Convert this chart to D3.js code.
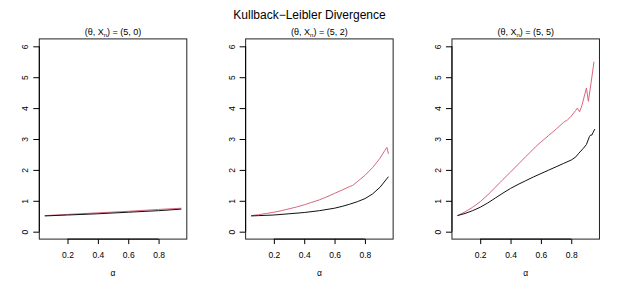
<!DOCTYPE html>
<html><head><meta charset="utf-8">
<script src="https://cdn.jsdelivr.net/npm/d3@7"></script>
<style>body{margin:0;background:#fff}svg{display:block}text{font-family:"Liberation Sans",Arial,sans-serif;fill:#000}</style>
</head><body><svg id="c" width="619" height="288"></svg>
<script>
const panelTitles = [["5","0"],["5","2"],["5","5"]];
const xTicks = [0.2,0.4,0.6,0.8];
const yTicks = [0,1,2,3,4,5,6];
// panel 1 (5,0)
const p1Alpha = [0.05,0.2,0.4,0.6,0.8,0.95];
const p1Red   = [0.52,0.56,0.61,0.66,0.72,0.76];
const p1Black = [0.51,0.54,0.58,0.63,0.68,0.73];
// panel 2 (5,2)
const p2RedAlpha = [0.05,0.1,0.15,0.2,0.25,0.3,0.35,0.4,0.45,0.5,0.55,0.6,0.65,0.7,0.72,0.75,0.8,0.85,0.9,0.93,0.945,0.955];
const p2Red      = [0.52,0.55,0.59,0.63,0.68,0.74,0.80,0.87,0.95,1.03,1.13,1.24,1.35,1.46,1.50,1.62,1.82,2.07,2.38,2.62,2.73,2.52];
const p2BlackAlpha = [0.05,0.1,0.2,0.3,0.4,0.5,0.6,0.65,0.7,0.75,0.8,0.85,0.9,0.955];
const p2Black      = [0.51,0.52,0.54,0.58,0.62,0.68,0.76,0.82,0.89,0.97,1.07,1.22,1.44,1.78];
// panel 3 (5,5)
const p3RedAlpha = [0.05,0.1,0.15,0.2,0.25,0.3,0.332,0.35,0.4,0.45,0.5,0.55,0.565,0.6,0.65,0.7,0.75,0.76,0.77,0.8,0.83,0.84,0.855,0.87,0.9,0.913,0.93,0.95];
const p3Red      = [0.52,0.64,0.79,0.97,1.19,1.44,1.60,1.69,1.93,2.18,2.43,2.67,2.75,2.90,3.11,3.32,3.54,3.58,3.59,3.74,3.93,4.00,3.88,4.08,4.65,4.22,4.80,5.50];
const p3BlackAlpha = [0.05,0.1,0.15,0.2,0.25,0.3,0.35,0.4,0.45,0.5,0.55,0.6,0.65,0.7,0.75,0.8,0.83,0.85,0.88,0.9,0.92,0.93,0.935,0.945,0.955];
const p3Black      = [0.52,0.59,0.68,0.79,0.93,1.09,1.25,1.40,1.53,1.65,1.77,1.88,1.99,2.10,2.21,2.32,2.42,2.54,2.70,2.82,3.08,3.14,3.12,3.22,3.32];

const panels = [
  {red:[p1Alpha,p1Red], black:[p1Alpha,p1Black]},
  {red:[p2RedAlpha,p2Red], black:[p2BlackAlpha,p2Black]},
  {red:[p3RedAlpha,p3Red], black:[p3BlackAlpha,p3Black]}
];
const svg = d3.select("#c");
const RED = "#D8677E";
const pw = 619/3;
const L = 39.3, R = 186.8, T = 38.9, B = 239.1;

svg.append("text").attr("x",309.5).attr("y",18.5).attr("text-anchor","middle")
  .attr("font-size",12).text("Kullback\u2212Leibler Divergence");

panels.forEach((p,i)=>{
  const off = i*pw;
  const x = d3.scaleLinear().domain([0.014,0.986]).range([off+L, off+R]);
  const y = d3.scaleLinear().domain([-0.24,6.24]).range([B,T]);
  const g = svg.append("g");
  g.append("rect").attr("x",off+L).attr("y",T).attr("width",R-L).attr("height",B-T)
    .attr("fill","none").attr("stroke","#222").attr("stroke-width",1);
  const xa = g.append("g").attr("transform",`translate(0,${B})`)
    .call(d3.axisBottom(x).tickValues(xTicks).tickSize(5).tickPadding(8).tickFormat(d3.format(".1f")));
  xa.select(".domain").attr("d",`M${x(0.2)},0H${x(0.8)}`);
  xa.selectAll("text").attr("font-size",8.5).attr("font-family","Liberation Sans, Arial, sans-serif");
  const ya = g.append("g").attr("transform",`translate(${off+L},0)`)
    .call(d3.axisLeft(y).tickValues(yTicks).tickSize(6).tickFormat(d3.format("d")));
  ya.select(".domain").attr("d",`M0,${y(0)}V${y(6)}`);
  ya.selectAll(".tick text").attr("font-size",8.5).attr("font-family","Liberation Sans, Arial, sans-serif")
    .attr("text-anchor","middle").attr("dy",null).attr("x",null)
    .attr("transform","translate(-14,0) rotate(-90)").attr("dominant-baseline","central");
  const st = g.append("text").attr("x",off+(L+R)/2).attr("y",34.5).attr("text-anchor","middle").attr("font-size",9);
  st.append("tspan").text("(\u03B8, X");
  st.append("tspan").attr("font-size",6).attr("dy",2).text("n");
  st.append("tspan").attr("dy",-2).text(`) = (${panelTitles[i][0]}, ${panelTitles[i][1]})`);
  g.append("text").attr("x",off+(L+R)/2).attr("y",276).attr("text-anchor","middle").attr("font-size",8.5).text("\u03B1");
  const line = d3.line().x(d=>x(d[0])).y(d=>y(d[1]));
  const red = p.red[0].map((a,j)=>[a,p.red[1][j]]);
  const blk = p.black[0].map((a,j)=>[a,p.black[1][j]]);
  g.append("path").attr("d",line(red)).attr("fill","none").attr("stroke",RED).attr("stroke-width",1);
  g.append("path").attr("d",line(blk)).attr("fill","none").attr("stroke","#111").attr("stroke-width",1);
});
</script></body></html>
